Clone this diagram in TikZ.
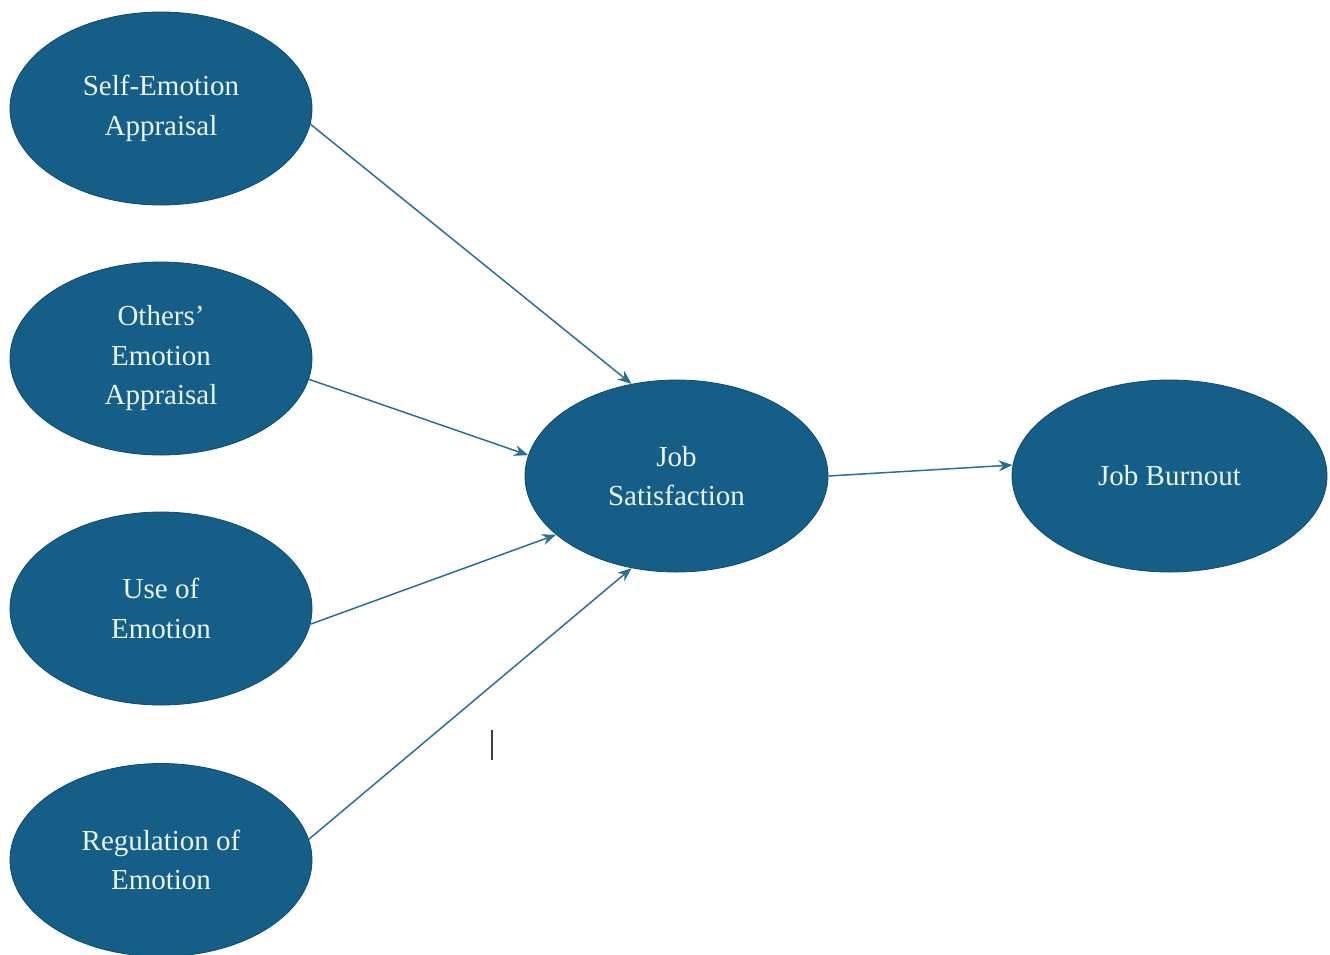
\documentclass[tikz,border=0pt]{standalone}
\usepackage{fontspec}
\setmainfont{Liberation Serif}
\usetikzlibrary{shapes.geometric,arrows.meta}
\definecolor{fillblue}{HTML}{155E87}
\definecolor{edgeblue}{HTML}{0F4A6C}
\definecolor{arrowblue}{HTML}{2B6E94}
\definecolor{labeltext}{HTML}{EAF5FB}
\begin{document}
\begin{tikzpicture}[x=1pt,y=-1pt,
  construct/.style={ellipse, fill=fillblue, draw=edgeblue, line width=0.8pt,
    minimum width=302pt, minimum height=193pt, inner sep=0pt,
    text=labeltext, align=center,
    font=\fontsize{29}{39.5}\selectfont},
  path/.style={draw=arrowblue, line width=1.5pt,
    -{Stealth[length=14pt,width=11pt]}}
]
\useasboundingbox (0,0) rectangle (1330,954);

% exogenous constructs
\node[construct] (sea) at (161,108.5) {Self-Emotion\\Appraisal};
\node[construct] (oea) at (161,358.5) {Others'\\Emotion\\Appraisal};
\node[construct] (uoe) at (161,608.5) {Use of\\Emotion};
\node[construct] (roe) at (161,860) {Regulation of\\Emotion};

% mediator and outcome
\node[construct, minimum width=303pt, minimum height=192pt] (js) at (676.5,476) {Job\\Satisfaction};
\node[construct, minimum width=315pt, minimum height=192pt] (jb) at (1169.5,476) {Job Burnout};

% structural paths
\draw[path] (sea.-6) -- (js.116);
\draw[path] (oea.-8) -- (js.172);
\draw[path] (uoe.-6) -- (js.-154);
\draw[path] (roe.8) -- (js.-116);
\draw[path] (js.east) -- (jb.176);

% text cursor mark
\coordinate (caretTop) at (492,730);
\coordinate (caretBot) at (492,760);
\draw[black!75, line width=1.6pt] (caretTop) -- (caretBot);
\end{tikzpicture}
\end{document}
